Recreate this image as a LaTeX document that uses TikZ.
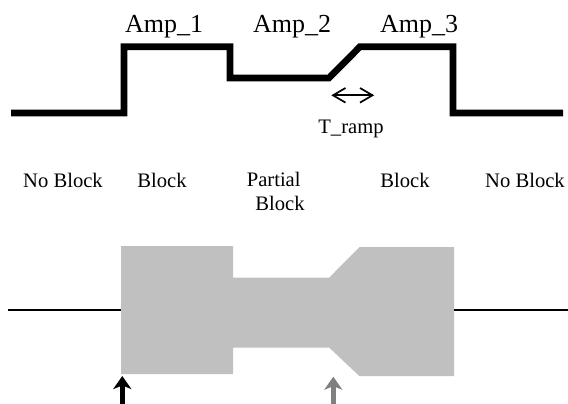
\documentclass[tikz,border=0pt]{standalone}
\usepackage{fontspec}
\setmainfont{Liberation Serif}
\usetikzlibrary{arrows.meta}
\definecolor{blockgray}{HTML}{C0C0C0}
\definecolor{arrowgray}{HTML}{808080}
\begin{document}
\begin{tikzpicture}[x=1pt,y=-1pt,
  wave/.style={line width=6.7pt,line join=miter,line cap=butt},
  axisline/.style={line width=1.5pt},
  amplabel/.style={anchor=base,inner sep=0pt,font=\fontsize{26}{30}\selectfont},
  zonelabel/.style={anchor=base,inner sep=0pt,font=\fontsize{20.6}{24}\selectfont},
  rampmark/.style={line width=1.7pt,line join=miter},
  marker/.style={line width=5.5pt,-{Stealth[length=13pt,width=18pt,inset=3.5pt]}}]
\useasboundingbox (0,0) rectangle (568,404);
% top waveform
\draw[wave] (11,113) -- (124,113) -- (124,46.7) -- (230,46.7) -- (230,78)
  -- (329,78) -- (360,46.7) -- (453,46.7) -- (453,113) -- (563,113);
\node[amplabel] (amp1) at (164,33) {Amp\_1};
\node[amplabel] (amp2) at (292,32.5) {Amp\_2};
\node[amplabel] (amp3) at (419,33) {Amp\_3};
% T_ramp double arrow
\coordinate (rl) at (333,95.3);
\coordinate (rr) at (372.5,95.3);
\draw[rampmark] (rl) -- (rr);
\draw[rampmark] ([shift={(12.5,-7.3)}]rl) -- (rl) -- ([shift={(12.5,7.3)}]rl);
\draw[rampmark] ([shift={(-12.5,-7.3)}]rr) -- (rr) -- ([shift={(-12.5,7.3)}]rr);
\node[zonelabel] (tramp) at (351,133) {T\_ramp};
% zone labels
\node[zonelabel] (nb1) at (63,187) {No Block};
\node[zonelabel] (b1) at (162,187) {Block};
\node[zonelabel] (pb1) at (273.7,186.5) {Partial};
\node[zonelabel] (pb2) at (280,210) {Block};
\node[zonelabel] (b2) at (405,187) {Block};
\node[zonelabel] (nb2) at (525,187) {No Block};
% bottom shape
\fill[blockgray] (121,246) -- (233,246) -- (233,277.5) -- (329.3,277.5)
  -- (359.3,247.2) -- (454,247.2) -- (454,376) -- (359.3,376)
  -- (329.3,347.7) -- (233,347.7) -- (233,374) -- (121,374) -- cycle;
\coordinate (ll) at (8,310);
\coordinate (lr) at (121,310);
\coordinate (rl2) at (454,310);
\coordinate (rr2) at (568,310);
\draw[axisline] (ll) -- (lr);
\draw[axisline] (rl2) -- (rr2);
% markers
\coordinate (m1s) at (122.3,404);
\coordinate (m1e) at (122.3,376);
\coordinate (m2s) at (333.3,404);
\coordinate (m2e) at (333.3,376.7);
\draw[marker] (m1s) -- (m1e);
\draw[marker,arrowgray] (m2s) -- (m2e);
\end{tikzpicture}
\end{document}
